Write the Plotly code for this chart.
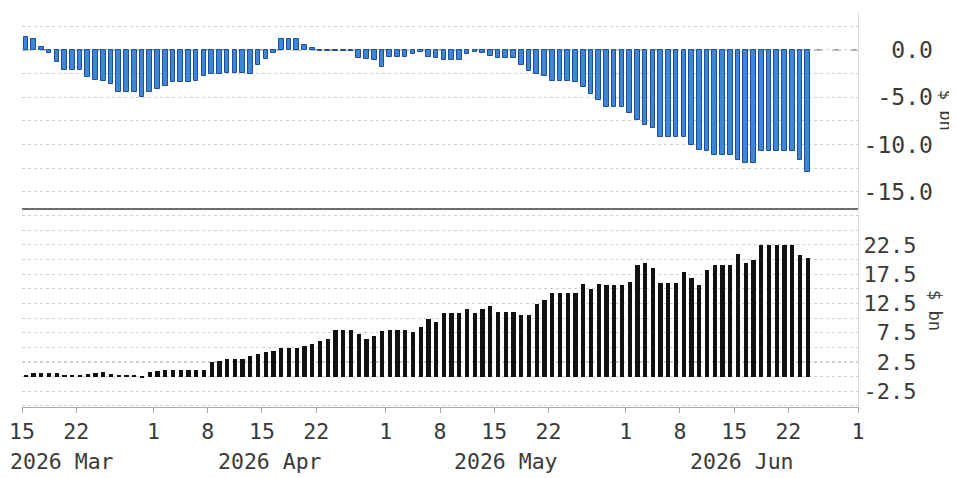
import pandas as pd
import plotly.graph_objects as go
from plotly.subplots import make_subplots

# ---------------- data ----------------
start_date = "2026-03-15"
end_date = "2026-06-24"

top_values = [
    1.4, 1.1, 0.3, -0.3, -1.3, -2.1, -2.1,
    -2.1, -2.9, -3.2, -3.3, -3.6, -4.5, -4.5,
    -4.5, -5.0, -4.4, -4.1, -3.8, -3.4, -3.4,
    -3.4, -3.3, -2.8, -2.6, -2.6, -2.4, -2.4,
    -2.4, -2.6, -1.6, -1.0, -0.3, 1.2, 1.2,
    1.2, 0.5, 0.2, -0.1, -0.1, -0.15, -0.15,
    -0.15, -0.9, -1.0, -1.1, -1.8, -0.8, -0.8,
    -0.8, -0.4, -0.2, -0.7, -0.9, -1.05, -1.05,
    -1.05, -0.4, -0.2, -0.3, -0.6, -0.9, -0.9,
    -0.9, -1.6, -2.2, -2.6, -2.8, -3.3, -3.3,
    -3.3, -3.4, -3.9, -4.7, -5.3, -6.0, -6.0,
    -6.0, -6.7, -7.4, -7.9, -8.3, -9.15, -9.15,
    -9.15, -9.15, -10.0, -10.6, -10.7, -11.1, -11.1,
    -11.1, -11.6, -11.9, -11.9, -10.7, -10.7, -10.7,
    -10.7, -10.7, -11.6, -12.85,
]

bottom_values = [
    0.2, 0.6, 0.6, 0.6, 0.6, 0.1, 0.1,
    0.1, 0.5, 0.6, 0.85, 0.5, 0.1, 0.1,
    0.1, -0.15, 0.7, 1.0, 1.1, 1.1, 1.1,
    1.1, 1.1, 1.1, 2.45, 2.7, 2.95, 2.95,
    2.95, 3.5, 3.9, 4.2, 4.4, 4.95, 4.95,
    4.95, 5.3, 5.6, 6.1, 6.4, 7.9, 7.9,
    7.9, 7.35, 6.4, 7.0, 7.8, 7.9, 7.9,
    7.9, 7.7, 8.5, 9.8, 9.4, 10.8, 10.8,
    10.8, 11.6, 10.8, 11.6, 12.1, 11.1, 11.1,
    11.1, 10.5, 10.5, 12.4, 13.1, 14.2, 14.2,
    14.2, 14.2, 15.8, 14.9, 15.8, 15.6, 15.6,
    15.6, 16.2, 19.0, 19.4, 18.6, 16.0, 16.0,
    16.0, 17.8, 16.8, 15.6, 18.2, 19.0, 19.0,
    19.0, 20.9, 19.4, 19.9, 22.5, 22.5, 22.5,
    22.5, 22.4, 20.7, 20.3,
]

x_tick_dates = ["2026-03-15", "2026-03-22", "2026-04-01", "2026-04-08", "2026-04-15",
                "2026-04-22", "2026-05-01", "2026-05-08", "2026-05-15", "2026-05-22",
                "2026-06-01", "2026-06-08", "2026-06-15", "2026-06-22", "2026-07-01"]
x_tick_labels = ["15", "22", "1", "8", "15", "22", "1", "8", "15", "22", "1", "8", "15", "22", "1"]

month_labels = ["2026 Mar", "2026 Apr", "2026 May", "2026 Jun"]
month_label_dates = ["2026-03-15", "2026-04-16", "2026-05-16 12:00", "2026-06-16"]

top_tick_vals = [0, -5, -10, -15]
top_tick_text = ["\u00a0\u00a00.0", "\u00a0-5.0", "-10.0", "-15.0"]
bottom_tick_vals = [22.5, 17.5, 12.5, 7.5, 2.5, -2.5]
bottom_tick_text = ["22.5", "17.5", "12.5", "\u00a07.5", "\u00a02.5", "-2.5"]

axis_title = "$ bn"

# ---------------- figure ----------------
dates = pd.date_range(start_date, end_date, freq="D")
DAY = 86400000
MONO = "DejaVu Sans Mono"
TXT = "#3a3a3a"
GRID = "#cfcfcf"

fig = make_subplots(rows=2, cols=1, shared_xaxes=True, vertical_spacing=0)

fig.add_trace(go.Bar(
    x=dates, y=top_values,
    xperiod=DAY, xperiodalignment="middle",
    width=0.6 * DAY,
    marker=dict(color="#3f86d4", line=dict(color="#1d4e98", width=1)),
    showlegend=False, hoverinfo="x+y",
), row=1, col=1)

fig.add_trace(go.Bar(
    x=dates, y=bottom_values,
    xperiod=DAY, xperiodalignment="middle",
    width=0.55 * DAY,
    marker=dict(color="#111111", line=dict(width=0)),
    showlegend=False, hoverinfo="x+y",
), row=2, col=1)

# page body has an 8px margin: figure occupies 8..957 x 8..478
split = (407 - 208) / 395.0
xrange = ["2026-03-15", "2026-07-01"]

fig.update_layout(
    width=949, height=470,
    margin=dict(l=14, r=99, t=4, b=71),
    paper_bgcolor="white", plot_bgcolor="white",
    bargap=0,
    font=dict(family=MONO, color=TXT),
    xaxis=dict(
        range=xrange, type="date", showgrid=False, showticklabels=False, automargin=False,
        ticks="", showline=True, linecolor="#6e6e6e", linewidth=2, zeroline=False,
    ),
    xaxis2=dict(
        range=xrange, type="date", showgrid=False, automargin=False,
        tickmode="array", tickvals=x_tick_dates, ticktext=x_tick_labels,
        tickfont=dict(family=MONO, size=21.5, color=TXT),
        ticks="outside", ticklen=5, tickcolor="#aaaaaa",
        showline=True, linecolor="#aaaaaa", linewidth=1, zeroline=False,
    ),
    yaxis=dict(
        domain=[split, 1], side="right", range=[-16.7, 4.0], automargin=False,
        tickmode="array", tickvals=top_tick_vals, ticktext=top_tick_text,
        tickfont=dict(family=MONO, size=23, color=TXT),
        ticks="", showgrid=True, gridcolor=GRID, griddash="dot", gridwidth=1,
        minor=dict(tick0=0, dtick=2.5, showgrid=True, gridcolor=GRID, griddash="dot", gridwidth=1),
        zeroline=False, showline=True, linecolor="#dddddd", linewidth=1,
    ),
    yaxis2=dict(
        domain=[0, split], side="right", range=[-5.2, 28.8], automargin=False,
        tickmode="array", tickvals=bottom_tick_vals, ticktext=bottom_tick_text,
        tickfont=dict(family=MONO, size=22, color=TXT),
        ticks="", showgrid=True, gridcolor=GRID, griddash="dot", gridwidth=1,
        minor=dict(tick0=0, dtick=2.5, showgrid=True, gridcolor=GRID, griddash="dot", gridwidth=1),
        zeroline=False, showline=True, linecolor="#dddddd", linewidth=1,
    ),
)

# darker reference lines
fig.add_shape(type="line", xref="x domain", yref="y", x0=0, x1=1, y0=0, y1=0,
              line=dict(color="#555555", width=1, dash="dash"), layer="below")
for yv in (20, 2.5):
    fig.add_shape(type="line", xref="x2 domain", yref="y2", x0=0, x1=1, y0=yv, y1=yv,
                  line=dict(color="#8a8a8a", width=1, dash="dot"), layer="below")

# month labels (second row of x labels)
for i, (lab, d) in enumerate(zip(month_labels, month_label_dates)):
    fig.add_annotation(
        x=d, xref="x2", y=-0.139, yref="paper", text=lab, showarrow=False,
        xanchor="left" if i == 0 else "center", yanchor="middle",
        xshift=-14 if i == 0 else 0,
        font=dict(family=MONO, size=21.5, color=TXT),
    )

# axis titles on the right, reading top-to-bottom
fig.add_annotation(x=1.1055, xref="paper", y=0.752, yref="paper", text=axis_title,
                   xanchor="center", yanchor="middle",
                   textangle=90, showarrow=False, font=dict(family=MONO, size=17, color=TXT))
fig.add_annotation(x=1.092, xref="paper", y=0.243, yref="paper", text=axis_title,
                   xanchor="center", yanchor="middle",
                   textangle=90, showarrow=False, font=dict(family=MONO, size=17, color=TXT))

fig.write_html("out.html")
